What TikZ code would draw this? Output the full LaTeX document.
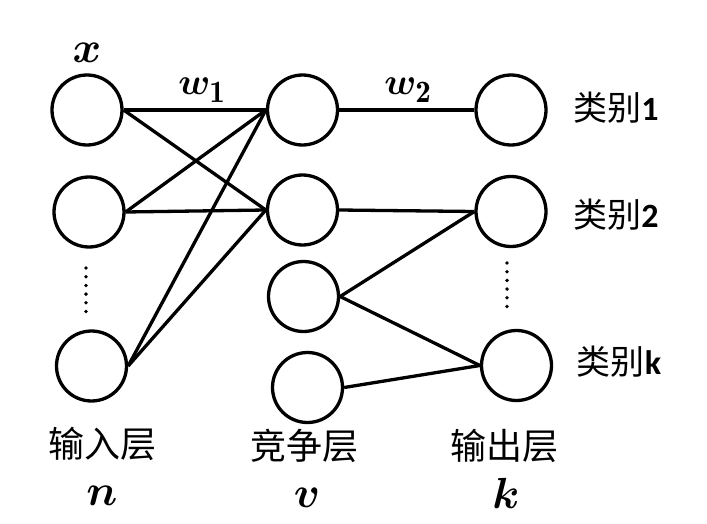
\documentclass[tikz,border=0pt]{standalone}
\usepackage{fontspec}
\usepackage{graphicx}
\usepackage{amsmath,bm}
\newfontfamily\cjk{Noto Sans CJK SC}
\newfontfamily\lat{Carlito}
\newcommand{\bigsym}[2]{\scalebox{#1}{\Huge$#2$}}
\begin{document}
\begin{tikzpicture}[x=1pt,y=-1pt,
  neuron/.style={circle,draw,line width=3.3pt,minimum size=70pt,inner sep=0pt},
  conn/.style={line width=3.3pt},
  dotcol/.style={line width=3.8pt,line cap=round,dash pattern=on 0pt off 8.7pt},
  cat/.style={font=\cjk\fontsize{34}{34}\selectfont,anchor=center},
  layer/.style={font=\cjk\fontsize{36}{36}\selectfont,anchor=center},
  sym/.style={anchor=center,inner sep=0pt}]
\useasboundingbox (0,0) rectangle (707,524);
% input layer
\node[neuron] (i1) at (87,110) {};
\node[neuron] (i2) at (89,212) {};
\node[neuron] (i3) at (91.5,366) {};
% competitive layer
\node[neuron] (c1) at (302.5,110) {};
\node[neuron] (c2) at (302.5,210) {};
\node[neuron] (c3) at (303.5,296.5) {};
\node[neuron] (c4) at (307.5,387.5) {};
% output layer
\node[neuron] (o1) at (511,110) {};
\node[neuron] (o2) at (511,211.5) {};
\node[neuron] (o3) at (516.5,365.5) {};
% connectors
\draw[conn] (i1.east) -- (c1.west);
\draw[conn] (i1.east) -- (c2.west);
\draw[conn] (i2.east) -- (c1.west);
\draw[conn] (i2.east) -- (c2.west);
\draw[conn] (i3.east) -- (c1.west);
\draw[conn] (i3.east) -- (c2.west);
\draw[conn] (c1.east) -- (o1.west);
\draw[conn] (c2.east) -- (o2.west);
\draw[conn] (c3.east) -- (o2.west);
\draw[conn] (c3.east) -- (o3.west);
\draw[conn] (c4.east) -- (o3.west);
% dotted ellipses
\coordinate (d1a) at (86,268);
\coordinate (d1b) at (86,314);
\coordinate (d2a) at (507,263);
\coordinate (d2b) at (507,309);
\draw[dotcol] (d1a) -- (d1b);
\draw[dotcol] (d2a) -- (d2b);
% labels
\node[sym] (lx) at (87,53) {\bigsym{1.75}{\bm{x}}};
\node[sym] (lw1) at (202,90) {\bigsym{1.5}{\bm{w}_{\mathbf{1}}}};
\node[sym] (lw2) at (408,90) {\bigsym{1.5}{\bm{w}_{\mathbf{2}}}};
\node[cat] (k1) at (616,108) {类别{\lat\bfseries 1}};
\node[cat] (k2) at (616,215) {类别{\lat\bfseries 2}};
\node[cat] (kk) at (619,362) {类别{\lat\bfseries k}};
\node[layer] (l1) at (102,444) {输入层};
\node[layer] (l2) at (304,446) {竞争层};
\node[layer] (l3) at (504,446) {输出层};
\node[sym] (ln) at (102,496) {\bigsym{1.75}{\bm{n}}};
\node[sym] (lv) at (307,498) {\bigsym{1.75}{\bm{v}}};
\node[sym] (lk) at (506,493) {\bigsym{1.75}{\bm{k}}};
\end{tikzpicture}
\end{document}
